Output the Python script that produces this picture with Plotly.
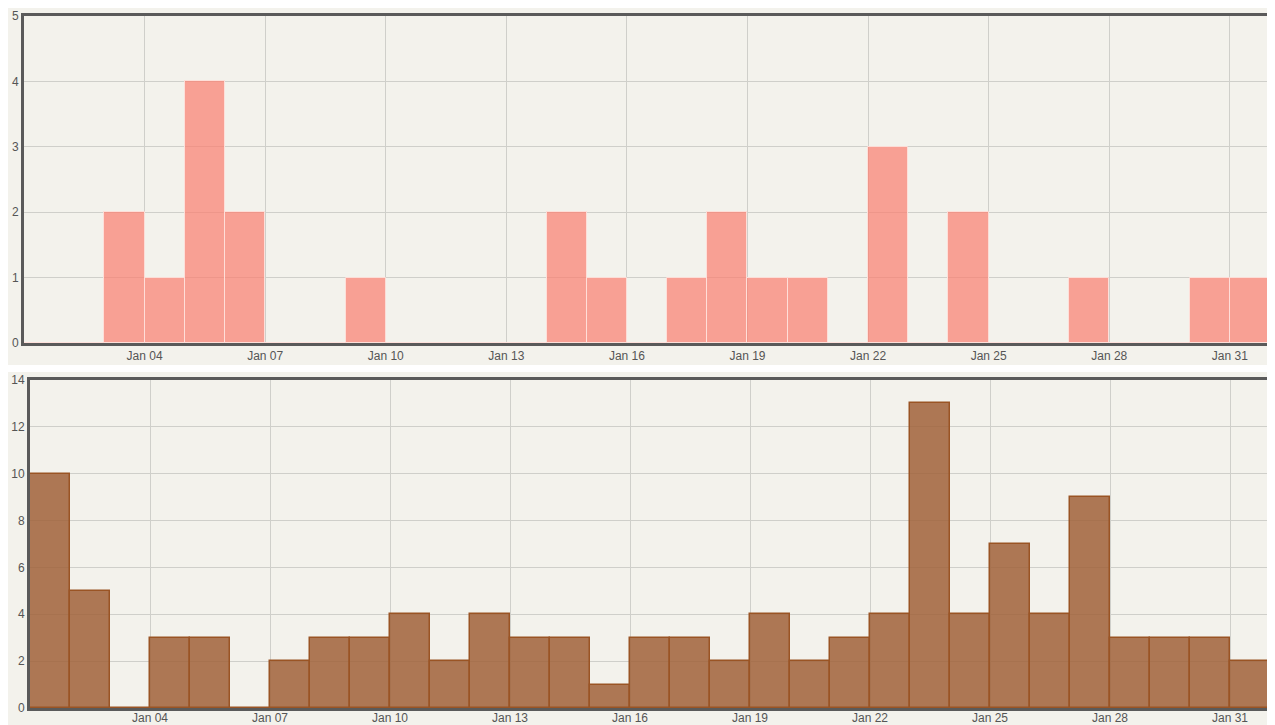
import plotly.graph_objects as go
import pandas as pd

days = pd.date_range("2021-01-01", "2021-01-31", freq="D")
top_values = [0, 0, 2, 1, 4, 2, 0, 0, 1, 0, 0, 0, 0, 2, 1, 0, 1, 2, 1, 1, 0, 3, 0, 2, 0, 0, 1, 0, 0, 1, 1]
bottom_values = [10, 5, 0, 3, 3, 0, 2, 3, 3, 4, 2, 4, 3, 3, 1, 3, 3, 2, 4, 2, 3, 4, 13, 4, 7, 4, 9, 3, 3, 3, 2]
tick_dates = pd.date_range("2021-01-04", "2021-01-31", freq="3D")
tick_labels = [d.strftime("Jan %d") for d in tick_dates]
top_yticks = [0, 1, 2, 3, 4, 5]
bottom_yticks = [0, 2, 4, 6, 8, 10, 12, 14]

# page is offset by the 8px body margin
W, H = 1267, 717
day_ms = 24 * 3600 * 1000
x_mid = [d + pd.Timedelta(hours=12) for d in days]

fig = go.Figure()
fig.add_trace(go.Bar(
    x=x_mid, y=top_values, width=day_ms,
    marker=dict(color="rgba(250,128,114,0.72)", line=dict(color="rgba(255,225,220,0.9)", width=1)),
    xaxis="x", yaxis="y", showlegend=False,
))
fig.add_trace(go.Bar(
    x=x_mid, y=bottom_values, width=day_ms,
    marker=dict(color="rgba(160,98,58,0.85)", line=dict(color="#9a5424", width=1.5)),
    xaxis="x2", yaxis="y2", showlegend=False,
))

bg = "#f3f2ec"
grid = "#cfcfca"
font = dict(family="Liberation Sans, Arial, sans-serif", size=12, color="#555")
xr = [pd.Timestamp("2021-01-01"), pd.Timestamp("2021-02-01")]

common_x = dict(type="date", range=xr, tickvals=list(tick_dates), ticktext=tick_labels,
                showgrid=True, gridcolor=grid, gridwidth=1, showline=True, linecolor="#5a5a5a",
                linewidth=3, mirror=True, ticks="", zeroline=False, tickfont=font, automargin=False)
common_y = dict(showgrid=True, gridcolor=grid, gridwidth=1, showline=True, linecolor="#5a5a5a",
                linewidth=3, mirror=True, ticks="", zeroline=False, tickfont=font, automargin=False)

fig.update_layout(
    width=W, height=H,
    margin=dict(l=0, r=0, t=0, b=0),
    paper_bgcolor=bg,
    plot_bgcolor=bg,
    bargap=0,
    xaxis=dict(domain=[16 / W, 1262 / W], anchor="y", **common_x),
    yaxis=dict(domain=[1 - 335 / H, 1 - 8 / H], anchor="x", range=[0, 5], tickvals=top_yticks, **common_y),
    xaxis2=dict(domain=[22 / W, 1262 / W], anchor="y2", ticklabelstandoff=-3, **common_x),
    yaxis2=dict(domain=[1 - 700 / H, 1 - 372 / H], anchor="x2", range=[0, 14], tickvals=bottom_yticks, **common_y),
    shapes=[
        dict(type="rect", xref="paper", yref="paper", x0=-0.01, x1=1.01, y0=1 - 364 / H, y1=1 - 357 / H,
             fillcolor="white", line=dict(width=0), layer="below"),
    ],
)

fig.write_html("out.html")
